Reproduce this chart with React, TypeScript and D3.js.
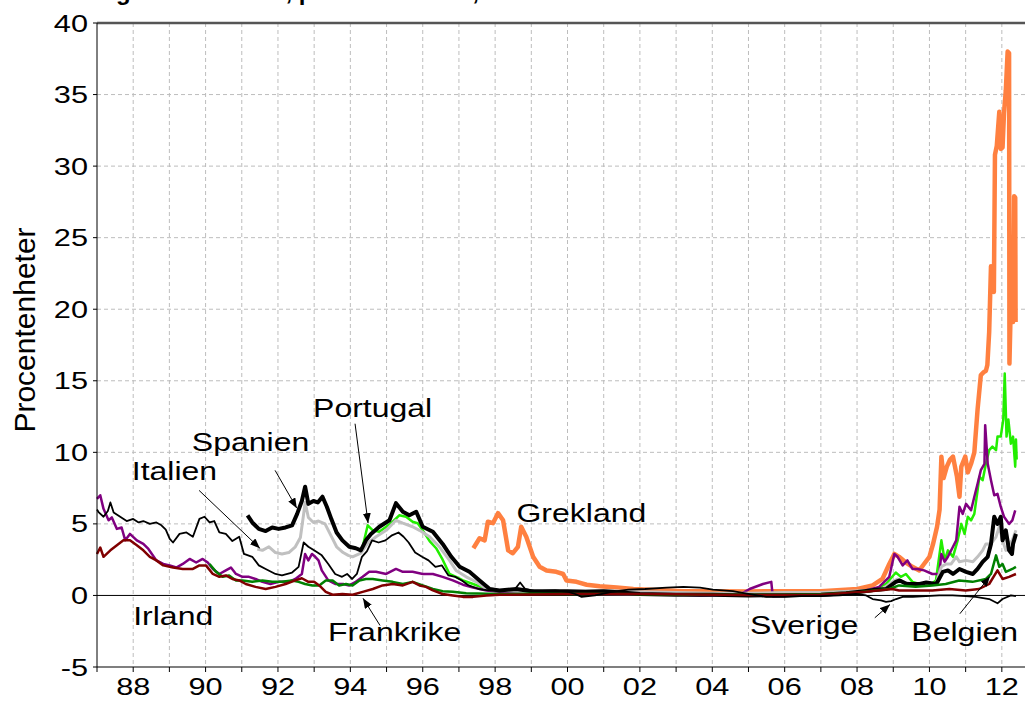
import { useRef, useEffect } from 'react';
import * as d3 from 'd3';

type Point = [number, number];

// årtal (decimal) och procentenheter
const grekland: Point[] = [
  [1997.4, 3.3], [1997.57, 4.0], [1997.71, 3.85], [1997.8, 5.15], [1997.94, 5.05], [1998.08, 5.75], [1998.22, 5.25],
  [1998.36, 3.15], [1998.49, 2.95], [1998.63, 3.4], [1998.72, 4.8], [1998.86, 4.1], [1999.05, 2.7], [1999.23, 2.0],
  [1999.42, 1.75], [1999.69, 1.65], [1999.88, 1.5], [1999.97, 1.05], [2000.25, 0.95], [2000.53, 0.75], [2000.89, 0.65],
  [2001.36, 0.55], [2001.82, 0.45], [2002.28, 0.4], [2002.74, 0.35], [2003.2, 0.3], [2004.0, 0.3], [2005.0, 0.28],
  [2006.0, 0.3], [2007.0, 0.3], [2008.01, 0.45], [2008.43, 0.7], [2008.7, 1.15], [2008.89, 2.2], [2009.03, 2.9],
  [2009.16, 2.7], [2009.35, 2.3], [2009.53, 2.0], [2009.72, 1.75], [2009.85, 2.2], [2010.0, 2.7], [2010.1, 3.6],
  [2010.21, 4.8], [2010.28, 6.0], [2010.33, 9.7], [2010.39, 8.2], [2010.48, 9.0], [2010.57, 9.5], [2010.65, 9.7],
  [2010.76, 8.3], [2010.83, 6.9], [2010.88, 9.0], [2010.99, 9.7], [2011.06, 8.6], [2011.15, 9.2], [2011.24, 10.0],
  [2011.33, 13.0], [2011.42, 15.4], [2011.5, 15.6], [2011.56, 15.7], [2011.6, 16.1], [2011.65, 18.4], [2011.7, 23.0],
  [2011.74, 22.6], [2011.78, 21.2], [2011.81, 30.8], [2011.86, 31.4], [2011.93, 33.8], [2011.97, 31.2], [2012.02, 31.3],
  [2012.06, 33.7], [2012.11, 35.3], [2012.16, 38.0], [2012.2, 37.9], [2012.21, 16.2], [2012.25, 20.6], [2012.29, 20.5],
  [2012.31, 19.1], [2012.34, 27.9], [2012.37, 27.8], [2012.38, 19.1],
];

const portugal: Point[] = [
  [1994.34, 3.4], [1994.48, 4.9], [1994.62, 4.55], [1994.8, 4.45], [1994.99, 4.8], [1995.17, 5.15], [1995.35, 5.6],
  [1995.54, 5.5], [1995.72, 5.15], [1995.86, 5.05], [1996.0, 4.55], [1996.19, 3.8], [1996.37, 3.3], [1996.55, 2.5],
  [1996.74, 1.5], [1996.92, 1.3], [1997.11, 1.05], [1997.39, 0.8], [1997.76, 0.45], [1998.12, 0.35], [1999.0, 0.25],
  [2000.0, 0.25], [2001.0, 0.3], [2002.0, 0.2], [2003.0, 0.15], [2004.0, 0.15], [2005.0, 0.12], [2006.0, 0.18],
  [2007.0, 0.2], [2008.0, 0.3], [2008.43, 0.35], [2008.8, 0.8], [2009.07, 1.6], [2009.21, 1.3], [2009.35, 1.5],
  [2009.53, 0.95], [2009.72, 0.8], [2009.99, 0.7], [2010.18, 1.05], [2010.33, 3.85], [2010.42, 2.45], [2010.51, 3.15],
  [2010.65, 2.7], [2010.78, 3.85], [2010.88, 5.0], [2010.97, 4.3], [2011.06, 5.5], [2011.15, 5.25], [2011.24, 5.7],
  [2011.33, 7.35], [2011.38, 8.3], [2011.47, 8.05], [2011.56, 9.2], [2011.65, 10.15], [2011.74, 10.4], [2011.84, 10.15],
  [2011.88, 11.1], [2011.97, 11.1], [2012.04, 12.3], [2012.08, 15.5], [2012.13, 11.1], [2012.18, 12.3], [2012.25, 10.6],
  [2012.31, 11.1], [2012.37, 9.0], [2012.39, 10.9], [2012.41, 9.5],
];

const irland: Point[] = [
  [1987.0, 6.75], [1987.09, 7.0], [1987.18, 6.05], [1987.32, 5.25], [1987.41, 5.45], [1987.55, 4.65], [1987.68, 4.75],
  [1987.78, 3.85], [1987.91, 4.3], [1988.1, 3.85], [1988.28, 3.6], [1988.42, 3.25], [1988.64, 2.45], [1988.83, 2.2],
  [1989.01, 2.1], [1989.19, 1.95], [1989.37, 2.2], [1989.56, 2.55], [1989.74, 2.3], [1989.92, 2.55], [1990.06, 2.3],
  [1990.2, 1.85], [1990.38, 1.5], [1990.56, 1.75], [1990.7, 1.95], [1990.84, 1.5], [1991.02, 1.3], [1991.2, 1.3],
  [1991.38, 1.15], [1991.57, 0.95], [1991.79, 0.8], [1992.02, 0.95], [1992.3, 0.95], [1992.48, 1.15], [1992.66, 1.5],
  [1992.75, 2.9], [1992.84, 2.45], [1992.94, 2.9], [1993.03, 2.7], [1993.12, 2.45], [1993.21, 1.75], [1993.39, 1.05],
  [1993.58, 0.8], [1993.8, 0.8], [1993.97, 0.7], [1994.15, 0.95], [1994.34, 1.3], [1994.52, 1.65], [1994.71, 1.65],
  [1994.99, 1.5], [1995.26, 1.85], [1995.45, 1.65], [1995.72, 1.65], [1996.0, 1.5], [1996.28, 1.5], [1996.55, 1.3],
  [1996.83, 1.05], [1997.11, 0.75], [1997.39, 0.55], [1997.76, 0.35], [1998.12, 0.25], [1998.59, 0.15], [1999.05, 0.2],
  [1999.97, 0.15], [2000.89, 0.1], [2001.82, 0.05], [2002.74, 0.1], [2003.66, 0.0], [2004.75, 0.05], [2005.03, 0.45],
  [2005.4, 0.8], [2005.63, 0.95], [2005.67, -0.05], [2006.41, 0.0], [2007.33, 0.05], [2007.97, 0.15], [2008.24, 0.35],
  [2008.61, 0.6], [2008.89, 1.3], [2009.03, 2.9], [2009.12, 2.7], [2009.26, 2.1], [2009.39, 2.45], [2009.53, 1.85],
  [2009.67, 1.85], [2009.85, 1.75], [2010.08, 1.5], [2010.27, 1.5], [2010.33, 2.9], [2010.42, 2.35], [2010.51, 2.7],
  [2010.65, 3.4], [2010.74, 3.85], [2010.83, 6.2], [2010.92, 5.7], [2011.01, 6.4], [2011.15, 5.95], [2011.24, 6.9],
  [2011.33, 7.8], [2011.42, 8.75], [2011.52, 9.2], [2011.54, 11.9], [2011.61, 9.2], [2011.7, 8.05], [2011.79, 7.0],
  [2011.88, 7.1], [2011.97, 6.2], [2012.06, 5.5], [2012.2, 5.0], [2012.29, 5.25], [2012.37, 5.95],
];

const italien: Point[] = [
  [1991.43, 3.25], [1991.57, 3.15], [1991.75, 3.4], [1991.93, 3.0], [1992.11, 2.9], [1992.3, 3.0], [1992.48, 3.4],
  [1992.62, 4.05], [1992.71, 5.7], [1992.75, 6.5], [1992.84, 5.45], [1992.98, 5.1], [1993.12, 5.2], [1993.3, 5.0],
  [1993.44, 4.3], [1993.62, 3.4], [1993.8, 3.0], [1993.94, 2.8], [1994.06, 2.7], [1994.29, 2.95], [1994.48, 3.65],
  [1994.71, 4.1], [1994.99, 4.55], [1995.26, 5.25], [1995.45, 5.05], [1995.72, 4.8], [1995.91, 4.55], [1996.19, 4.1],
  [1996.46, 3.4], [1996.74, 2.45], [1996.92, 1.75], [1997.2, 1.3], [1997.48, 0.95], [1997.76, 0.45], [1998.12, 0.35],
  [1998.6, 0.3], [1999.0, 0.25], [2000.0, 0.3], [2001.0, 0.35], [2002.0, 0.25], [2003.0, 0.2], [2004.0, 0.15],
  [2005.0, 0.15], [2006.0, 0.2], [2007.0, 0.2], [2007.8, 0.3], [2008.3, 0.35], [2008.7, 0.45], [2008.98, 0.95],
  [2009.12, 1.15], [2009.26, 0.95], [2009.53, 0.8], [2009.9, 0.7], [2010.18, 0.8], [2010.33, 2.0], [2010.46, 2.2],
  [2010.6, 2.2], [2010.74, 2.7], [2010.83, 2.35], [2011.01, 2.45], [2011.2, 2.35], [2011.33, 2.7], [2011.47, 3.15],
  [2011.56, 3.6], [2011.7, 3.6], [2011.84, 4.1], [2011.93, 4.8], [2012.02, 3.85], [2012.11, 3.15], [2012.2, 3.6],
  [2012.29, 3.85], [2012.39, 4.55],
];

const spanien: Point[] = [
  [1991.16, 5.6], [1991.29, 5.1], [1991.47, 4.65], [1991.66, 4.5], [1991.84, 4.75], [1992.02, 4.65], [1992.21, 4.75],
  [1992.39, 4.9], [1992.53, 5.7], [1992.66, 6.6], [1992.75, 7.6], [1992.84, 6.4], [1992.98, 6.6], [1993.1, 6.5],
  [1993.23, 6.9], [1993.35, 6.2], [1993.48, 5.3], [1993.62, 4.4], [1993.78, 3.85], [1993.97, 3.4], [1994.15, 3.3],
  [1994.29, 3.15], [1994.43, 3.85], [1994.57, 4.3], [1994.8, 4.8], [1995.08, 5.25], [1995.26, 6.45], [1995.45, 5.85],
  [1995.63, 5.6], [1995.82, 5.85], [1996.0, 4.8], [1996.28, 4.45], [1996.55, 3.6], [1996.79, 2.7], [1997.02, 2.0],
  [1997.29, 1.65], [1997.57, 1.05], [1997.85, 0.45], [1998.12, 0.35], [1998.59, 0.45], [1999.0, 0.3], [1999.5, 0.3],
  [2000.0, 0.3], [2000.5, 0.25], [2001.0, 0.3], [2001.5, 0.2], [2002.0, 0.1], [2003.0, 0.05], [2004.0, 0.05],
  [2005.0, 0.0], [2006.0, 0.02], [2007.0, 0.05], [2007.7, 0.15], [2008.2, 0.3], [2008.5, 0.4], [2008.8, 0.45],
  [2009.07, 0.95], [2009.18, 1.05], [2009.37, 0.8], [2009.73, 0.8], [2009.91, 0.9], [2010.19, 0.8], [2010.37, 1.65],
  [2010.51, 1.75], [2010.65, 1.5], [2010.83, 1.85], [2011.01, 1.65], [2011.2, 1.5], [2011.33, 1.85], [2011.47, 2.35],
  [2011.61, 2.7], [2011.7, 3.6], [2011.79, 5.5], [2011.88, 5.0], [2011.97, 5.5], [2012.02, 3.85], [2012.11, 4.55],
  [2012.2, 3.15], [2012.28, 2.9], [2012.31, 3.6], [2012.39, 4.3],
];

const belgien: Point[] = [
  [1990.11, 2.2], [1990.29, 1.65], [1990.47, 1.3], [1990.65, 1.4], [1990.84, 1.05], [1991.02, 1.05], [1991.29, 0.95],
  [1991.57, 1.05], [1991.84, 0.95], [1992.11, 0.95], [1992.39, 1.05], [1992.57, 0.95], [1992.75, 0.8], [1992.95, 0.7],
  [1993.14, 0.7], [1993.32, 1.05], [1993.51, 1.05], [1993.69, 0.7], [1993.88, 0.8], [1994.06, 0.7], [1994.25, 1.05],
  [1994.43, 1.15], [1994.62, 1.15], [1994.89, 1.05], [1995.17, 0.95], [1995.45, 0.8], [1995.72, 0.95], [1996.0, 0.7],
  [1996.28, 0.45], [1996.55, 0.3], [1996.83, 0.25], [1997.2, 0.15], [1998.12, 0.1], [1999.0, 0.12], [2000.0, 0.1],
  [2001.0, 0.1], [2002.0, 0.08], [2003.0, 0.07], [2004.0, 0.05], [2005.0, 0.05], [2006.0, 0.05], [2007.0, 0.08],
  [2008.0, 0.2], [2008.5, 0.35], [2008.89, 0.45], [2009.16, 0.7], [2009.62, 0.6], [2010.08, 0.7], [2010.45, 0.8],
  [2010.82, 1.05], [2011.19, 0.95], [2011.56, 1.15], [2011.7, 1.5], [2011.84, 2.8], [2011.93, 2.0], [2012.02, 2.2],
  [2012.11, 1.65], [2012.29, 1.85], [2012.39, 2.0],
];

const frankrike: Point[] = [
  [1987.0, 2.9], [1987.09, 3.35], [1987.18, 2.7], [1987.37, 3.15], [1987.55, 3.5], [1987.73, 3.85], [1987.91, 3.85],
  [1988.1, 3.5], [1988.28, 3.15], [1988.46, 2.7], [1988.64, 2.45], [1988.83, 2.1], [1989.1, 1.95], [1989.37, 1.85],
  [1989.65, 1.85], [1989.83, 2.1], [1990.01, 2.1], [1990.2, 1.5], [1990.38, 1.3], [1990.56, 1.4], [1990.74, 1.15],
  [1990.93, 1.05], [1991.11, 0.8], [1991.38, 0.6], [1991.66, 0.45], [1991.93, 0.6], [1992.21, 0.8], [1992.48, 1.05],
  [1992.66, 1.2], [1992.84, 0.95], [1993.0, 0.95], [1993.14, 0.7], [1993.32, 0.25], [1993.51, 0.05], [1993.78, 0.1],
  [1994.06, 0.05], [1994.34, 0.25], [1994.62, 0.45], [1994.89, 0.7], [1995.17, 0.8], [1995.45, 0.7], [1995.72, 0.95],
  [1995.91, 0.7], [1996.09, 0.6], [1996.28, 0.35], [1996.55, 0.1], [1996.83, 0.0], [1997.11, -0.1], [1997.39, -0.1],
  [1997.76, 0.0], [1998.12, 0.05], [1999.05, 0.07], [1999.97, 0.1], [2001.0, 0.1], [2002.0, 0.1], [2003.0, 0.08],
  [2004.0, 0.05], [2005.0, 0.03], [2006.0, 0.03], [2007.0, 0.05], [2008.24, 0.25], [2008.98, 0.45], [2009.16, 0.35],
  [2010.08, 0.35], [2010.55, 0.45], [2011.0, 0.35], [2011.37, 0.45], [2011.65, 0.8], [2011.88, 1.75], [2012.02, 1.15],
  [2012.2, 1.3], [2012.39, 1.5],
];

const sverige: Point[] = [
  [1987.0, 6.0], [1987.05, 5.8], [1987.18, 5.5], [1987.3, 5.9], [1987.37, 6.5], [1987.46, 5.8], [1987.64, 5.5],
  [1987.82, 5.2], [1988.0, 5.35], [1988.15, 5.1], [1988.28, 5.2], [1988.46, 5.0], [1988.64, 5.1], [1988.78, 4.9],
  [1988.9, 4.6], [1989.01, 3.95], [1989.1, 3.7], [1989.28, 4.3], [1989.47, 4.4], [1989.65, 4.1], [1989.83, 5.35],
  [1989.97, 5.5], [1990.11, 5.1], [1990.24, 5.2], [1990.38, 4.4], [1990.56, 4.3], [1990.74, 3.8], [1990.93, 4.1],
  [1991.06, 2.9], [1991.29, 2.7], [1991.47, 2.1], [1991.66, 1.85], [1991.93, 1.5], [1992.11, 1.4], [1992.39, 1.6],
  [1992.57, 2.0], [1992.71, 3.7], [1992.84, 3.4], [1993.03, 3.1], [1993.21, 2.8], [1993.39, 2.2], [1993.58, 1.5],
  [1993.77, 1.3], [1993.91, 1.5], [1994.05, 1.15], [1994.18, 1.5], [1994.32, 2.7], [1994.46, 3.1], [1994.6, 3.85],
  [1994.78, 3.7], [1994.97, 3.85], [1995.15, 4.2], [1995.33, 4.4], [1995.47, 4.1], [1995.61, 3.7], [1995.79, 3.0],
  [1995.98, 2.7], [1996.16, 2.45], [1996.35, 2.0], [1996.53, 2.1], [1996.71, 1.4], [1996.9, 1.3], [1997.08, 1.05],
  [1997.27, 0.7], [1997.54, 0.45], [1997.82, 0.35], [1998.19, 0.35], [1998.55, 0.45], [1998.69, 0.9], [1998.83, 0.45],
  [1999.11, 0.3], [1999.66, 0.35], [2000.03, 0.25], [2000.21, 0.1], [2000.39, -0.1], [2000.76, 0.0], [2001.22, 0.25],
  [2001.68, 0.4], [2002.14, 0.45], [2002.74, 0.55], [2003.2, 0.6], [2003.66, 0.55], [2004.02, 0.4], [2004.57, 0.3],
  [2005.03, 0.1], [2005.49, -0.1], [2006.0, -0.1], [2006.41, -0.05], [2007.0, -0.05], [2007.51, 0.0], [2007.97, 0.1],
  [2008.25, 0.0], [2008.43, -0.25], [2008.66, -0.35], [2008.8, -0.45], [2008.94, -0.4], [2009.08, -0.25],
  [2009.26, -0.1], [2009.54, -0.1], [2009.9, -0.05], [2010.27, 0.0], [2010.64, 0.0], [2011.0, -0.05], [2011.28, -0.1],
  [2011.65, -0.25], [2011.88, -0.55], [2012.02, -0.25], [2012.25, 0.0], [2012.39, -0.05],
];

const yTickValues = [-5, 0, 5, 10, 15, 20, 25, 30, 35, 40];
const xLabelYears = [1988, 1990, 1992, 1994, 1996, 1998, 2000, 2002, 2004, 2006, 2008, 2010, 2012];
const xLabels = ['88', '90', '92', '94', '96', '98', '00', '02', '04', '06', '08', '10', '12'];

// etiketter placerade i (år, värde); pil från -> till
const labels: { text: string; at: Point; arrow?: [Point, Point] }[] = [
  { text: 'Portugal', at: [1992.97, 12.45], arrow: [[1994.13, 12.0], [1994.49, 5.05]] },
  { text: 'Spanien', at: [1989.62, 10.07], arrow: [[1991.92, 8.74], [1992.52, 6.1]] },
  { text: 'Italien', at: [1987.96, 8.04], arrow: [[1989.82, 7.34], [1991.5, 3.3]] },
  { text: 'Grekland', at: [1998.59, 5.13] },
  { text: 'Irland', at: [1988.0, -2.1] },
  { text: 'Frankrike', at: [1993.38, -3.15], arrow: [[1994.82, -2.1], [1994.35, -0.2]] },
  { text: 'Sverige', at: [2005.04, -2.68], arrow: [[2008.49, -1.56], [2008.91, -0.63]] },
  { text: 'Belgien', at: [2009.5, -3.15], arrow: [[2010.84, -1.28], [2011.67, 1.33]] },
];

const W = 1025;
const H = 704;
const FONT = "'Liberation Sans', Arial, sans-serif";
const STRETCH = 1.28;

const App = () => {
  const svgRef = useRef<SVGSVGElement | null>(null);

  useEffect(() => {
    const svg = d3.select(svgRef.current);
    svg.selectAll('*').remove();

    const left = 97;
    const top = 23;
    const bottom = 667;

    const x = d3.scaleLinear().domain([1987, 2012.64]).range([left, W]);
    const y = d3.scaleLinear().domain([-5, 40]).range([bottom, top]);

    svg.append('rect').attr('width', W).attr('height', H).attr('fill', '#fff');

    // titel (nästan helt utanför bilden)
    svg.append('text')
      .attr('x', 52).attr('y', -0.5)
      .attr('font-family', FONT).attr('font-size', 24).attr('font-weight', 'bold')
      .text('10-årig ränteskillnad, procentenheter, 1987–2012');

    const defs = svg.append('defs');
    defs.append('marker')
      .attr('id', 'arrowhead')
      .attr('viewBox', '0 0 10 8')
      .attr('refX', 10).attr('refY', 4)
      .attr('markerWidth', 10).attr('markerHeight', 8)
      .attr('markerUnits', 'userSpaceOnUse')
      .attr('orient', 'auto')
      .append('path').attr('d', 'M0,0 L10,4 L0,8 Z').attr('fill', '#000');

    // rutnät
    const years = d3.range(1988, 2013);
    svg.append('g').selectAll('line').data(years).enter().append('line')
      .attr('x1', d => x(d)).attr('x2', d => x(d))
      .attr('y1', top).attr('y2', bottom)
      .attr('stroke', '#bdbdbd').attr('stroke-width', 1).attr('stroke-dasharray', '4,3');
    svg.append('g').selectAll('line').data(yTickValues.filter(v => v > 0 && v < 40)).enter().append('line')
      .attr('x1', left).attr('x2', W)
      .attr('y1', d => y(d)).attr('y2', d => y(d))
      .attr('stroke', '#bdbdbd').attr('stroke-width', 1).attr('stroke-dasharray', '4,3');

    // nollinje
    svg.append('line').attr('x1', left).attr('x2', W).attr('y1', y(0)).attr('y2', y(0))
      .attr('stroke', '#000').attr('stroke-width', 1);

    // serier
    const line = d3.line<Point>().x(d => x(d[0])).y(d => y(d[1]));
    const series = [
      { data: grekland, color: '#ff8040', width: 4.5 },
      { data: portugal, color: '#22ee00', width: 2.5 },
      { data: irland, color: '#800080', width: 2.5 },
      { data: italien, color: '#c0c0c0', width: 3 },
      { data: spanien, color: '#000000', width: 4 },
      { data: belgien, color: '#008000', width: 2.5 },
      { data: frankrike, color: '#800000', width: 2.5 },
      { data: sverige, color: '#000000', width: 1.8 },
    ];
    svg.append('g').selectAll('path').data(series).enter().append('path')
      .attr('d', d => line(d.data))
      .attr('fill', 'none')
      .attr('stroke', d => d.color)
      .attr('stroke-width', d => d.width)
      .attr('stroke-linejoin', 'round');

    // ramar och axlar
    svg.append('line').attr('x1', left).attr('x2', W).attr('y1', top).attr('y2', top)
      .attr('stroke', '#555').attr('stroke-width', 2.5);
    svg.append('line').attr('x1', left).attr('x2', left).attr('y1', top).attr('y2', bottom)
      .attr('stroke', '#000').attr('stroke-width', 1);
    svg.append('line').attr('x1', left).attr('x2', W).attr('y1', bottom).attr('y2', bottom)
      .attr('stroke', '#000').attr('stroke-width', 1.2);

    svg.append('g').selectAll('line').data(d3.range(1987, 2013)).enter().append('line')
      .attr('x1', d => x(d)).attr('x2', d => x(d))
      .attr('y1', bottom).attr('y2', bottom + 5)
      .attr('stroke', '#000');
    svg.append('g').selectAll('line').data(yTickValues).enter().append('line')
      .attr('x1', left - 4).attr('x2', left)
      .attr('y1', d => y(d)).attr('y2', d => y(d))
      .attr('stroke', '#000');

    svg.append('g').selectAll('text').data(yTickValues).enter().append('text')
      .attr('transform', d => `translate(88,${y(d) + 8.5}) scale(${STRETCH},1)`)
      .attr('text-anchor', 'end')
      .attr('font-family', FONT).attr('font-size', 24)
      .text(d => d);

    svg.append('g').selectAll('text').data(xLabelYears).enter().append('text')
      .attr('transform', d => `translate(${x(d)},695) scale(${STRETCH},1)`)
      .attr('text-anchor', 'middle')
      .attr('font-family', FONT).attr('font-size', 24)
      .text((d, i) => xLabels[i]);

    svg.append('text')
      .attr('transform', 'translate(35,330) rotate(-90)')
      .attr('text-anchor', 'middle')
      .attr('font-family', FONT).attr('font-size', 30)
      .text('Procentenheter');

    // etiketter och pilar
    const ann = svg.append('g');
    labels.forEach(l => {
      ann.append('text')
        .attr('transform', `translate(${x(l.at[0])},${y(l.at[1])}) scale(${STRETCH},1)`)
        .attr('font-family', FONT).attr('font-size', 25)
        .text(l.text);
      if (l.arrow) {
        ann.append('line')
          .attr('x1', x(l.arrow[0][0])).attr('y1', y(l.arrow[0][1]))
          .attr('x2', x(l.arrow[1][0])).attr('y2', y(l.arrow[1][1]))
          .attr('stroke', '#000').attr('stroke-width', 1)
          .attr('marker-end', 'url(#arrowhead)');
      }
    });
  }, []);

  return (
    <svg
      ref={svgRef}
      width={W}
      height={H}
      style={{ position: 'absolute', left: 0, top: 0, display: 'block' }}
    />
  );
};

export default App;
